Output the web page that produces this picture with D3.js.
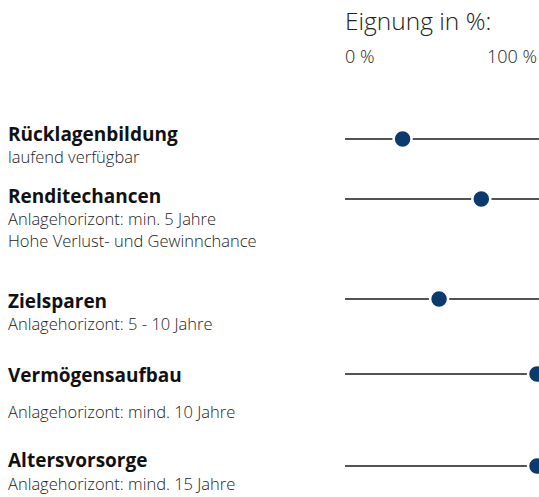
<!DOCTYPE html>
<html>
<head>
<meta charset="utf-8">
<script src="https://cdn.jsdelivr.net/npm/d3@7"></script>
<style>
  body { margin: 0; background: #fff; overflow: hidden; }
  svg { display: block; font-family: "Open Sans", Lato, sans-serif; }
  .title { font-weight: 700; font-size: 19px; fill: #111; }
  .sub { font-weight: 300; font-size: 16.5px; fill: #222; }
  .head { font-weight: 300; font-size: 24.5px; fill: #222; }
  .tick { font-weight: 300; font-size: 18px; fill: #222; }
</style>
</head>
<body>
<div id="chart"></div>
<script>
// categories, their notes and the "Eignung" in percent
var categories = ["Rücklagenbildung", "Renditechancen", "Zielsparen", "Vermögensaufbau", "Altersvorsorge"];
var notes = [
  ["laufend verfügbar"],
  ["Anlagehorizont: min. 5 Jahre", "Hohe Verlust- und Gewinnchance"],
  ["Anlagehorizont: 5 - 10 Jahre"],
  ["Anlagehorizont: mind. 10 Jahre"],
  ["Anlagehorizont: mind. 15 Jahre"]
];
var values = [30, 71, 49, 100, 100];
var tickLabels = ["0 %", "100 %"];

var width = 539, height = 497;

// layout: the rows in the original are not evenly spaced
var lineY = [139, 199, 299, 374, 466];
var titleY = [141, 203, 308, 382, 467];
var noteY = [163, 225, 330, 418, 490];
var noteStep = 22;

var svg = d3.select("#chart").append("svg")
  .attr("width", width)
  .attr("height", height);

var x = d3.scaleLinear().domain([0, 100]).range([345, 537]);

// header
svg.append("text").attr("class", "head")
  .attr("x", x(0)).attr("y", 30)
  .text("Eignung in %:");

svg.append("text").attr("class", "tick")
  .attr("x", x(0)).attr("y", 63)
  .text(tickLabels[0]);

svg.append("text").attr("class", "tick")
  .attr("x", x(100)).attr("y", 63)
  .attr("text-anchor", "end")
  .text(tickLabels[1]);

var rows = svg.selectAll("g.row")
  .data(categories)
  .enter().append("g")
  .attr("class", "row");

rows.append("text").attr("class", "title")
  .attr("x", 8)
  .attr("y", function(d, i) { return titleY[i]; })
  .text(function(d) { return d; });

rows.each(function(d, i) {
  var g = d3.select(this);
  notes[i].forEach(function(line, j) {
    g.append("text").attr("class", "sub")
      .attr("x", 8)
      .attr("y", noteY[i] + j * noteStep)
      .text(line);
  });
});

rows.append("line")
  .attr("x1", x(0)).attr("x2", width + 10)
  .attr("y1", function(d, i) { return lineY[i]; })
  .attr("y2", function(d, i) { return lineY[i]; })
  .attr("stroke", "#1a1a1a")
  .attr("stroke-width", 1.5);

rows.append("circle")
  .attr("cx", function(d, i) { return x(values[i]); })
  .attr("cy", function(d, i) { return lineY[i]; })
  .attr("r", 9)
  .attr("fill", "#0a3a6e")
  .attr("stroke", "#fff")
  .attr("stroke-width", 2.5);
</script>
</body>
</html>
